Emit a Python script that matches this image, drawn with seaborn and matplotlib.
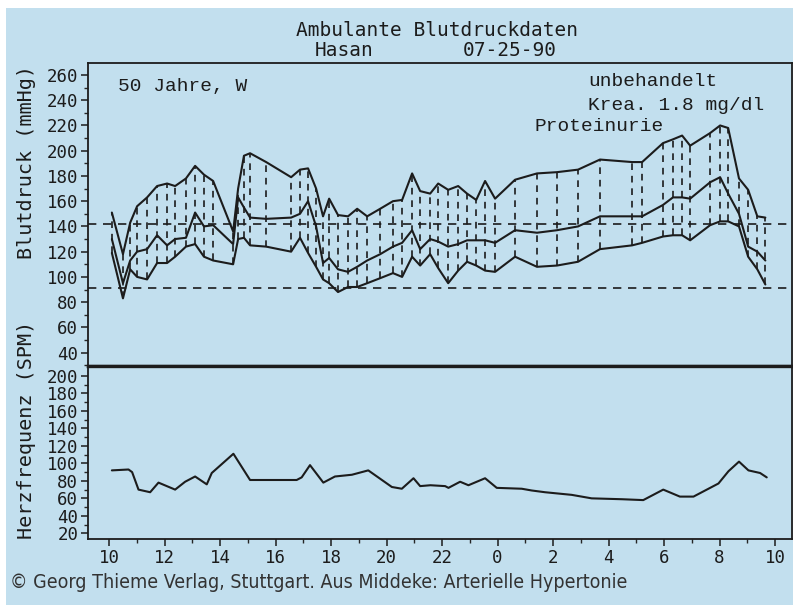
import matplotlib
matplotlib.use("Agg")
import matplotlib.pyplot as plt
import seaborn as sns
import pandas as pd
from matplotlib.patches import Rectangle

# measurement times in hours since midnight of day 1 (24+ = next morning)
bp_hours = [10.10, 10.50, 10.76, 11.01, 11.37, 11.73, 12.09, 12.38, 12.77, 13.10,
            13.42, 13.75, 14.47, 14.65, 14.86, 15.08, 15.66, 16.56, 16.88, 17.17,
            17.46, 17.71, 17.93, 18.25, 18.61, 18.94, 19.30, 19.77, 20.23, 20.56,
            20.92, 21.21, 21.57, 21.86, 22.22, 22.58, 22.90, 23.23, 23.55, 23.91,
            24.63, 25.42, 26.14, 26.90, 27.69, 28.85, 29.21, 29.96, 30.32, 30.65,
            30.94, 31.66, 32.02, 32.31, 32.70, 33.03, 33.36, 33.65]
systolic = [151, 118, 143, 156, 163, 172, 174, 172, 178, 188,
            181, 176, 136, 170, 196, 198, 191, 179, 185, 186,
            170, 148, 162, 149, 148, 154, 148, 154, 160, 161,
            182, 168, 166, 174, 169, 172, 166, 161, 176, 162,
            177, 182, 183, 185, 193, 191, 191, 206, 209, 212,
            204, 214, 220, 218, 178, 169, 148, 147]
mittel = [130, 95, 113, 120, 122, 133, 125, 130, 131, 151,
          140, 141, 126, 163, 155, 147, 146, 147, 150, 160,
          140, 111, 115, 106, 104, 108, 113, 118, 124, 127,
          137, 122, 130, 128, 124, 126, 129, 129, 129, 127,
          137, 135, 137, 140, 148, 148, 148, 157, 163, 163,
          162, 175, 179, 166, 150, 124, 120, 113]
diastolic = [119, 83, 106, 100, 98, 111, 111, 116, 124, 126,
             116, 113, 110, 130, 131, 125, 124, 120, 131, 119,
             108, 98, 95, 88, 92, 92, 95, 99, 103, 100,
             116, 109, 118, 107, 95, 105, 112, 109, 105, 104,
             116, 108, 109, 112, 122, 125, 127, 132, 133, 133,
             129, 141, 144, 144, 140, 116, 106, 94]

hr_hours = [10.10, 10.70, 10.83, 11.06, 11.48, 11.78, 12.38, 12.74, 13.10, 13.52,
            13.70, 14.48, 15.08, 16.76, 16.94, 17.24, 17.72, 18.14, 18.75, 19.34,
            20.19, 20.55, 20.97, 21.21, 21.58, 22.11, 22.23, 22.65, 22.95, 23.55,
            23.97, 24.87, 25.23, 25.71, 26.67, 27.39, 28.48, 29.25, 29.97, 30.57,
            31.06, 31.96, 32.32, 32.70, 33.04, 33.46, 33.70]
herzfrequenz = [92, 93, 90, 70, 67, 78, 70, 79, 85, 76,
                89, 111, 81, 81, 84, 98, 78, 85, 87, 92,
                73, 71, 83, 74, 75, 74, 72, 79, 75, 83,
                72, 71, 69, 67, 64, 60, 59, 58, 70, 62,
                62, 77, 91, 102, 92, 89, 84]

x_ticks = [10, 12, 14, 16, 18, 20, 22, 24, 26, 28, 30, 32, 34]
x_labels = ["10", "12", "14", "16", "18", "20", "22", "0", "2", "4", "6", "8", "10"]
bp_ticks = [40, 60, 80, 100, 120, 140, 160, 180, 200, 220, 240, 260]
hr_ticks = [20, 40, 60, 80, 100, 120, 140, 160, 180, 200]
grenzen = [142, 91]

W, H = 793, 608
BG = "#c2dfee"
INK = "#1c1c1c"

sns.set_style("ticks")
plt.rcParams["font.family"] = ["DejaVu Sans Mono", "DejaVu Sans"]

bp = pd.DataFrame({"Stunde": bp_hours, "sys": systolic, "mit": mittel, "dia": diastolic})
hr = pd.DataFrame({"Stunde": hr_hours, "HF": herzfrequenz})

fig = plt.figure(figsize=(W / 100, H / 100), dpi=100)
fig.patch.set_facecolor("white")
fig.patches.append(Rectangle((6 / W, 3 / H), 1 - 6 / W, 1 - 11 / H,
                             transform=fig.transFigure, facecolor=BG,
                             edgecolor="none", zorder=-10))

def px(x0, y0, x1, y1):
    return [x0 / W, 1 - y1 / H, (x1 - x0) / W, (y1 - y0) / H]

ax1 = fig.add_axes(px(88, 63, 792, 366))
ax2 = fig.add_axes(px(88, 366, 792, 539), sharex=ax1)

for ax in (ax1, ax2):
    ax.set_facecolor(BG)
    for s in ax.spines.values():
        s.set_color(INK)
        s.set_linewidth(1.3)
    ax.tick_params(colors=INK, labelsize=12.5, length=5, width=1.1, pad=2)
    ax.tick_params(which="minor", length=3, width=1)

# blood pressure: sys / mean / dia curves
for col in ["sys", "mit", "dia"]:
    sns.lineplot(data=bp, x="Stunde", y=col, ax=ax1, color=INK, lw=1.5,
                 estimator=None, sort=False)
ax1.vlines(bp["Stunde"], bp["dia"], bp["sys"], colors=INK, linestyles=(0, (4, 3.5)), lw=1.2)
for g in grenzen:
    ax1.axhline(g, color=INK, lw=1.2, ls=(0, (5, 4)))

ax1.set_ylim(29.4, 269.5)
ax1.set_yticks(bp_ticks)
ax1.set_yticks(range(30, 270, 10), minor=True)
ax1.set_xlim(9.24, 34.61)
ax1.tick_params(axis="x", which="both", bottom=False, labelbottom=False)
ax1.spines["bottom"].set_linewidth(2.4)
ax1.set_xlabel("")
ax1.set_ylabel("")

# heart rate
sns.lineplot(data=hr, x="Stunde", y="HF", ax=ax2, color=INK, lw=1.5,
             estimator=None, sort=False)
ax2.set_ylim(13.5, 211.4)
ax2.set_yticks(hr_ticks)
ax2.set_yticks(range(20, 210, 10), minor=True)
ax2.set_xticks(x_ticks)
ax2.set_xticklabels(x_labels)
ax2.set_xticks(range(10, 35), minor=True)
ax2.spines["top"].set_linewidth(2.4)
ax2.set_xlabel("")
ax2.set_ylabel("")

def ftext(x, y, s, **kw):
    kw.setdefault("color", INK)
    fig.text(x / W, 1 - y / H, s, **kw)

ftext(437, 30, "Ambulante Blutdruckdaten", ha="center", va="center", fontsize=14)
ftext(344, 50, "Hasan", ha="center", va="center", fontsize=14)
ftext(510, 50, "07-25-90", ha="center", va="center", fontsize=14)
ftext(27, 162, "Blutdruck (mmHg)", ha="center", va="center", rotation=90, fontsize=14.5)
ftext(27, 430, "Herzfrequenz (SPM)", ha="center", va="center", rotation=90, fontsize=14.5)

mono = ["Liberation Mono", "DejaVu Sans Mono"]
ftext(118, 86, "50 Jahre, W", ha="left", va="center", fontsize=14, family=mono)
ftext(588, 82, "unbehandelt", ha="left", va="center", fontsize=14, family=mono)
ftext(588, 105, "Krea. 1.8 mg/dl", ha="left", va="center", fontsize=14, family=mono)
ftext(535, 127, "Proteinurie", ha="left", va="center", fontsize=14, family=mono)

ftext(10, 583, "\u00a9 Georg Thieme Verlag, Stuttgart. Aus Middeke: Arterielle Hypertonie",
      ha="left", va="center", fontsize=14, stretch="condensed",
      family=["DejaVu Sans"], color="#333333")

fig.savefig("out.png", dpi=100, facecolor=fig.get_facecolor())
